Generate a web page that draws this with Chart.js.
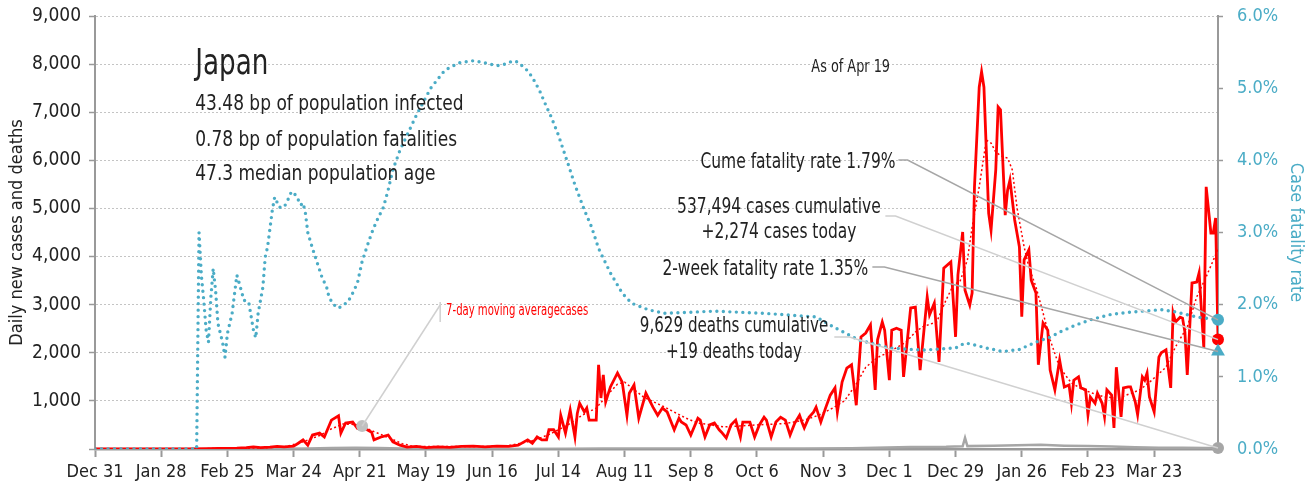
<!DOCTYPE html>
<html>
<head>
<meta charset="utf-8">
<script src="https://cdn.jsdelivr.net/npm/chart.js@4.4.1/dist/chart.umd.min.js"></script>
<style>
  html, body { margin: 0; padding: 0; background: #fff; }
  #wrap { width: 1312px; height: 491px; }
</style>
</head>
<body>
<div id="wrap"><canvas id="graph1"></canvas></div>
<script>
// days counted from Dec 31, 2019 (day 0) to Apr 19, 2021 (day 475)
const tickDays = [0, 28, 56, 84, 112, 140, 168, 196, 224, 252, 280, 308, 336, 364, 392, 420, 448];
const tickLabels = ['Dec 31', 'Jan 28', 'Feb 25', 'Mar 24', 'Apr 21', 'May 19', 'Jun 16', 'Jul 14',
  'Aug 11', 'Sep 8', 'Oct 6', 'Nov 3', 'Dec 1', 'Dec 29', 'Jan 26', 'Feb 23', 'Mar 23'];

const caseDays = [0, 25, 40, 48, 52, 56, 60, 64, 67, 70, 74, 77, 80, 84, 86, 88, 90, 92, 95, 97, 100, 103, 104, 106, 109, 111, 114, 117, 118, 121, 124, 126, 129, 132, 136, 140, 145, 150, 155, 160, 165, 170, 175, 179,
  183, 185, 187, 189, 191, 192, 194, 196, 197, 199, 201, 203, 204, 205, 207, 208, 209, 212, 213, 214, 215, 216, 218, 221, 223, 225, 226, 228, 230, 233, 236, 238, 240, 242, 245, 247, 248, 250, 252, 255, 256, 258, 260, 262, 264,
  265, 267, 269, 271, 273, 274, 277, 279, 281, 283, 284, 286, 288, 290, 292, 294, 296, 298, 299, 300, 302, 304, 305, 307, 309, 311, 313, 314, 316, 318, 320, 322, 324, 326, 328,
  330, 331, 333, 334, 336, 337, 339, 341, 342, 345, 347, 349, 352, 353, 355, 357, 359, 362, 364, 365, 367, 368, 370, 371, 372, 374, 375, 376, 378, 379, 381, 382, 383, 385, 386, 387, 389, 391, 392, 393, 395, 396, 398, 399,
  401, 403, 404, 406, 408, 410, 412, 413, 414, 416, 417, 419, 420, 421, 423, 424, 426, 427, 428, 430, 431, 432, 434, 435, 437, 438, 440, 441, 443, 444, 445, 446, 448,
  450, 451, 453, 455, 456, 457, 459, 460, 461, 462, 464, 466, 467, 469, 470, 472, 473, 474, 475];
const caseVals = [0, 0, 2, 5, 10, 15, 20, 30, 45, 30, 40, 55, 45, 60, 120, 190, 80, 290, 330, 250, 600, 690, 330, 540, 560, 430, 430, 350, 190, 250, 290, 150, 80, 40, 55, 30, 45, 35, 55, 60, 45, 60, 55, 80,
  190, 120, 250, 190, 190, 400, 400, 250, 700, 330, 810, 250, 740, 950, 770, 850, 600, 600, 1750, 1060, 1540, 980, 1290, 1580, 1390, 700, 1160, 1330, 640, 1160, 870, 700, 850, 770, 400, 640, 560, 500, 290, 640, 600, 250, 500, 540, 400,
  350, 230, 500, 600, 250, 560, 560, 250, 500, 660, 600, 250, 560, 660, 600, 290, 540, 700, 560, 440, 660, 770, 870, 560, 850, 1120, 1270, 770, 1390, 1680, 1750, 910, 2330, 2410, 2580,
  1230, 2270, 2640, 2470, 1430, 2470, 2510, 2470, 1500, 2930, 2950, 1640, 3160, 2790, 3030, 1810, 3760, 3890, 2330, 3620, 4510, 3300, 2990, 3240, 5450, 7520, 7840, 7520, 4900, 4550, 5800, 7110, 7050, 4860, 5380, 5590, 4760, 4200, 2750, 3930, 4140, 3510, 3240, 1750,
  2620, 2470, 1640, 1230, 1850, 1290, 1330, 950, 1430, 1500, 1270, 1230, 710, 1080, 950, 1160, 950, 670, 1230, 1120, 440, 1700, 670, 1270, 1290, 1290, 980, 710, 1500, 1430, 1580, 1080, 770,
  1910, 2000, 2060, 1270, 2830, 2640, 2740, 2720, 2430, 1540, 3450, 3470, 3660, 2100, 5450, 4490, 4490, 4800, 2274];

const maDays = [0, 60, 80, 88, 95, 100, 105, 110, 113, 118, 124, 130, 135, 165, 175, 185, 192, 200, 206, 212, 216, 221, 224, 232, 241, 250, 255, 266, 280, 292, 300, 306, 312, 317, 322, 326, 331, 336, 343, 347, 350, 356, 360, 363, 366, 369, 371, 374, 377, 379, 381, 384, 386, 388, 390, 393, 395, 398, 401, 404, 408, 413, 418, 422, 427, 433, 442, 447, 453, 457, 462, 466, 470, 475];
const maVals = [0, 10, 40, 150, 280, 420, 520, 510, 478, 360, 240, 110, 50, 50, 70, 170, 300, 500, 700, 850, 1080, 1350, 1390, 1080, 870, 640, 540, 460, 500, 530, 600, 700, 850, 1000, 1350, 1700, 1900, 2020, 2220, 2430, 2540, 2640, 3100, 3400, 3500, 3930, 4610, 5450, 6420, 6360, 6170, 6070, 6050, 5800, 5010, 4200, 3780, 3370, 2830, 2270, 1700, 1370, 1230, 1160, 1080, 1060, 1230, 1430, 1700, 2120, 2540, 3160, 3580, 4150];

const deathDays = [0, 45, 60, 75, 90, 100, 110, 120, 130, 140, 160, 200, 215, 230, 250, 270, 300, 320, 330, 345, 360, 367, 368, 369, 380, 390, 400, 410, 420, 430, 440, 450, 460, 470, 475];
const deathVals = [0, 0, 1, 3, 10, 20, 25, 20, 10, 5, 2, 3, 8, 12, 10, 8, 8, 15, 25, 40, 45, 55, 230, 60, 70, 80, 90, 70, 60, 50, 35, 25, 25, 20, 19];

// case fatality rate, percent
const cfrDays = [0, 43, 44, 45, 46, 47, 48, 49, 50, 51, 52, 54, 55, 56, 58, 60, 61, 63, 65, 67, 68, 69, 71, 72, 73, 75, 76, 78, 80, 82, 83, 84, 86, 87, 88, 89, 90, 92, 94, 96, 98, 99, 101, 103,
  107, 109, 111, 113, 115, 117, 119, 122, 124, 126, 129, 136, 142, 148, 154, 160, 165, 170, 173, 177, 179, 183, 185, 188, 191, 193, 196, 200, 203, 207, 210, 213, 214, 218, 223, 227, 234, 241,
  262, 283, 305, 313, 323, 336, 350, 364, 368, 371, 377, 384, 391, 398, 404, 408, 415, 422, 429, 436, 443, 451, 457, 466, 475];
const cfrVals = [0, 0, 3.0, 2.4, 2.06, 1.65, 1.48, 2.1, 2.5, 2.2, 1.74, 1.47, 1.27, 1.6, 1.88, 2.41, 2.3, 2.06, 2.04, 1.65, 1.54, 1.88, 2.24, 2.66, 2.8, 3.31, 3.49, 3.35, 3.35, 3.48, 3.56, 3.56, 3.45, 3.38, 3.41, 3.27, 3.0, 2.78, 2.58, 2.38, 2.24, 2.1, 2.0, 1.95,
  2.04, 2.16, 2.3, 2.6, 2.8, 2.99, 3.15, 3.35, 3.59, 3.87, 4.14, 4.63, 5.0, 5.25, 5.35, 5.38, 5.35, 5.31, 5.33, 5.38, 5.36, 5.24, 5.15, 4.97, 4.74, 4.6, 4.35, 3.96, 3.66, 3.31, 3.08, 2.78, 2.71, 2.44, 2.16, 2.02, 1.93, 1.88,
  1.91, 1.88, 1.83, 1.68, 1.51, 1.40, 1.37, 1.40, 1.47, 1.45, 1.40, 1.35, 1.38, 1.48, 1.55, 1.62, 1.72, 1.80, 1.86, 1.89, 1.91, 1.93, 1.90, 1.83, 1.79];

const lastDay = 475;
const casesToday = 2274;
const deathsToday = 19;
const cumeFatality = 1.79;
const twoWeekFatality = 1.35;
const maMarker = {x: 113, y: 478};

const RED = '#FF0000';
const BLUE = '#4BACC6';
const GRAY = '#A6A6A6';
const LIGHT = '#D0D0D0';
const TEXT = '#222222';
const FONT = "'DejaVu Sans Condensed', 'DejaVu Sans', sans-serif";

const pts = (xs, ys) => xs.map((x, i) => ({x: x, y: ys[i]}));

// text notes, anchored in data units (day, left-axis value); sx narrows the glyphs
const notes = [
  {text: 'Japan', day: 42.4, val: 7795, align: 'left', size: 36, sx: 0.81},
  {text: '43.48 bp of population infected', day: 42.4, val: 7046, align: 'left', size: 22, sx: 0.86},
  {text: '0.78 bp of population fatalities', day: 42.4, val: 6298, align: 'left', size: 22, sx: 0.86},
  {text: '47.3 median population age', day: 42.4, val: 5591, align: 'left', size: 22, sx: 0.86},
  {text: 'As of Apr 19', day: 303, val: 7836, align: 'left', size: 17, sx: 0.84},
  {text: 'Cume fatality rate 1.79%', day: 338.6, val: 5841, align: 'right', size: 21, sx: 0.82},
  {text: '537,494 cases cumulative', day: 289.3, val: 4905, align: 'center', size: 21, sx: 0.82},
  {text: '+2,274 cases today', day: 289.3, val: 4386, align: 'center', size: 21, sx: 0.82},
  {text: '2-week fatality rate 1.35%', day: 327.1, val: 3617, align: 'right', size: 21, sx: 0.82},
  {text: '9,629 deaths cumulative', day: 270.3, val: 2432, align: 'center', size: 21, sx: 0.8},
  {text: '+19 deaths today', day: 270.3, val: 1891, align: 'center', size: 21, sx: 0.8},
  {text: '7-day moving averagecases', day: 148.5, val: 2785, align: 'left', size: 16, sx: 0.7, color: RED}
];

// leader lines: start, elbow, end (end may be on the right axis)
const leaders = [
  {from: [339.8, 6007], elbow: [343.7, 6007], to: [lastDay, cumeFatality], axis: 'y1', color: GRAY},
  {from: [334.3, 4843], elbow: [338.6, 4843], to: [lastDay, casesToday], axis: 'y', color: LIGHT},
  {from: [328.8, 3783], elbow: [333.9, 3783], to: [lastDay, twoWeekFatality], axis: 'y1', color: GRAY},
  {from: [312.7, 2328], elbow: [319.1, 2328], to: [lastDay, deathsToday], axis: 'y', color: LIGHT},
  {from: [maMarker.x, maMarker.y], elbow: [146, 2993], to: [146, 2993], axis: 'y', color: LIGHT}
];

const notesPlugin = {
  id: 'notes',
  afterDatasetsDraw(chart) {
    const {ctx, scales} = chart;
    const X = d => scales.x.getPixelForValue(d);
    const Y = v => scales.y.getPixelForValue(v);
    ctx.save();
    leaders.forEach(l => {
      const endY = l.axis === 'y1' ? scales.y1.getPixelForValue(l.to[1]) : Y(l.to[1]);
      ctx.beginPath();
      ctx.strokeStyle = l.color;
      ctx.lineWidth = 1.5;
      ctx.moveTo(X(l.from[0]), Y(l.from[1]));
      ctx.lineTo(X(l.elbow[0]), Y(l.elbow[1]));
      ctx.lineTo(X(l.to[0]), endY);
      ctx.stroke();
    });
    // short tick at the moving-average label
    ctx.beginPath();
    ctx.strokeStyle = LIGHT;
    ctx.lineWidth = 1.5;
    ctx.moveTo(X(146), Y(3055));
    ctx.lineTo(X(146), Y(2640));
    ctx.stroke();

    ctx.textBaseline = 'alphabetic';
    notes.forEach(n => {
      ctx.save();
      ctx.font = n.size + 'px ' + FONT;
      ctx.fillStyle = n.color || TEXT;
      ctx.textAlign = n.align;
      ctx.translate(X(n.day), Y(n.val));
      ctx.scale(n.sx, 1);
      ctx.fillText(n.text, 0, 0);
      ctx.restore();
    });
    ctx.restore();
  }
};

Chart.defaults.font.family = FONT;
Chart.defaults.color = TEXT;

const noPad = s => { s.paddingTop = 0; s.paddingBottom = 0; s.paddingLeft = 0; s.paddingRight = 0; };

const marker = (point, axis, color, style, radius) => ({
  data: [point], yAxisID: axis, showLine: false, clip: 12,
  pointStyle: style, pointRadius: radius, pointBackgroundColor: color, pointBorderWidth: 0, order: 0
});

const config = {
  type: 'line',
  data: {
    datasets: [
      {
        label: 'Case fatality rate',
        data: pts(cfrDays, cfrVals),
        yAxisID: 'y1',
        borderColor: BLUE,
        borderWidth: 3.4,
        borderDash: [0, 6.5],
        borderCapStyle: 'round',
        order: 1
      },
      {
        label: '7-day moving average cases',
        data: pts(maDays, maVals),
        yAxisID: 'y',
        borderColor: RED,
        borderWidth: 1.5,
        borderDash: [2, 2.5],
        order: 2
      },
      {
        label: 'Daily new cases',
        data: pts(caseDays, caseVals),
        yAxisID: 'y',
        borderColor: RED,
        borderWidth: 2.8,
        order: 3
      },
      {
        label: 'Daily deaths',
        data: pts(deathDays, deathVals),
        yAxisID: 'y',
        borderColor: GRAY,
        borderWidth: 2.5,
        order: 4
      },
      // end-of-series markers
      marker({x: lastDay, y: cumeFatality}, 'y1', BLUE, 'circle', 6),
      marker({x: lastDay, y: twoWeekFatality}, 'y1', BLUE, 'triangle', 8),
      marker({x: lastDay, y: casesToday}, 'y', RED, 'circle', 6),
      marker({x: lastDay, y: deathsToday}, 'y', GRAY, 'circle', 6),
      marker(maMarker, 'y', '#C0C0C0', 'circle', 6)
    ]
  },
  options: {
    responsive: true,
    maintainAspectRatio: false,
    animation: false,
    layout: { padding: { top: 16, left: 0, right: 0, bottom: 0 } },
    elements: {
      point: { radius: 0, hoverRadius: 0 },
      line: { tension: 0, fill: false }
    },
    plugins: {
      legend: { display: false },
      tooltip: { enabled: false }
    },
    scales: {
      x: {
        type: 'linear',
        min: 0,
        max: lastDay,
        afterBuildTicks: s => { s.ticks = tickDays.map(v => ({value: v})); },
        ticks: {
          autoSkip: false,
          maxRotation: 0,
          padding: 5,
          color: TEXT,
          font: { size: 18 },
          callback: v => tickLabels[tickDays.indexOf(v)]
        },
        grid: { drawOnChartArea: false, tickLength: 8, tickColor: '#999', tickWidth: 2 },
        border: { color: '#999', width: 2.5 },
        afterFit: s => { s.height = 42; noPad(s); }
      },
      y: {
        position: 'left',
        min: 0,
        max: 9000,
        ticks: {
          stepSize: 1000,
          padding: 8,
          color: TEXT,
          font: { size: 19 },
          callback: v => v === 0 ? '' : v.toLocaleString('en-US')
        },
        grid: { color: '#C4C4C4', lineWidth: 1, tickLength: 6, tickColor: '#999', tickWidth: 1.5 },
        border: { color: '#999', width: 2, dash: [2, 2] },
        title: { display: true, text: 'Daily new cases and deaths', color: TEXT, font: { size: 18 }, padding: { top: 7, bottom: 0 } },
        afterFit: s => { s.width = 95; noPad(s); }
      },
      y1: {
        position: 'right',
        min: 0,
        max: 6,
        ticks: {
          stepSize: 1,
          padding: 14,
          color: BLUE,
          font: { size: 18 },
          callback: v => v.toFixed(1) + '%'
        },
        grid: { drawOnChartArea: false, tickLength: 5, tickColor: '#999', tickWidth: 1.5 },
        border: { color: '#999', width: 2 },
        title: { display: true, text: 'Case fatality rate', color: BLUE, font: { size: 18 }, padding: { top: 6, bottom: 0 } },
        afterFit: s => { s.width = 94; noPad(s); }
      }
    }
  },
  plugins: [notesPlugin]
};

const myChart = new Chart(document.getElementById('graph1'), config);
</script>
</body>
</html>
